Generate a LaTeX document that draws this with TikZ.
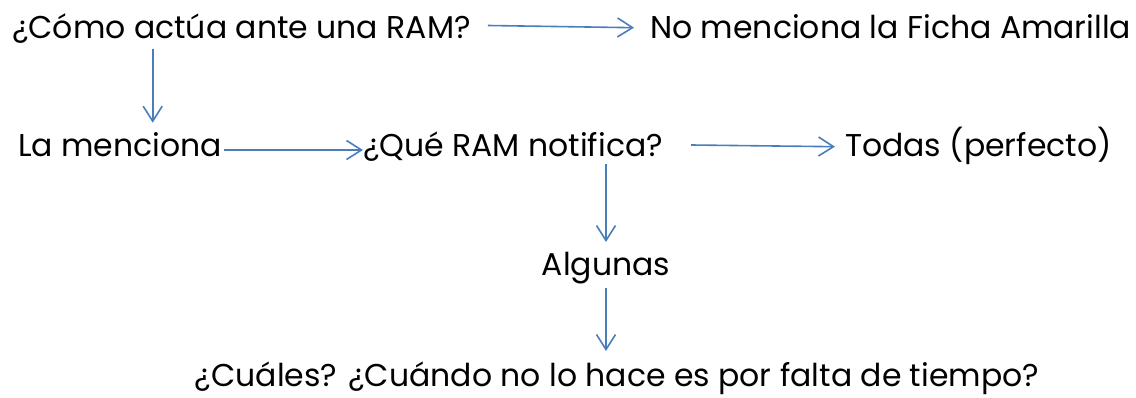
\documentclass[tikz,border=0pt]{standalone}
\usepackage{fontspec}
\setmainfont{Poppins}
\usetikzlibrary{arrows.meta,calc}
\definecolor{arrblue}{HTML}{4A7EBB}
\begin{document}
\begin{tikzpicture}[x=1pt,y=-1pt,
  lbl/.style={anchor=base west,inner sep=0pt,font=\fontsize{31.5}{34}\selectfont},
  arr/.style={draw=arrblue,line width=1.6pt,-{Straight Barb[length=15pt,width=19pt,line width=1.6pt]}}]
\useasboundingbox (0,0) rectangle (1136,398);
\node[lbl] (q1) at (12,39) {¿Cómo actúa ante una RAM?};
\node[lbl] (no) at (650,39) {No menciona la Ficha Amarilla};
\node[lbl] (la) at (18,157) {La menciona};
\node[lbl] (q2) at (363,157) {¿Qué RAM notifica?};
\node[lbl] (to) at (845,157) {Todas (perfecto)};
\node[lbl,anchor=base] (al) at (606,276) {Algunas};
\node[lbl,anchor=base] (cu) at (617,386) {¿Cuáles? ¿Cuándo no lo hace es por falta de tiempo?};
% connectors
\draw[arr] ($(q1.base east)+(17,-13.5)$) -- ($(no.base west)+(-16,-11.3)$);
\draw[arr] ($(q1.base west)+(140.7,10)$) -- ($(la.base west)+(134.7,-34.3)$);
\draw[arr] ($(la.base east)+(2,-7)$) -- ($(q2.base west)+(0,-7)$);
\draw[arr] ($(q2.base east)+(28,-12)$) -- ($(to.base west)+(-10,-10.3)$);
\draw[arr] ($(al.base |- q2.base)+(0,7)$) -- ($(al.base)+(0,-34)$);
\draw[arr] ($(al.base)+(0,12)$) -- ($(al.base |- cu.base)+(0,-35)$);
\end{tikzpicture}
\end{document}
